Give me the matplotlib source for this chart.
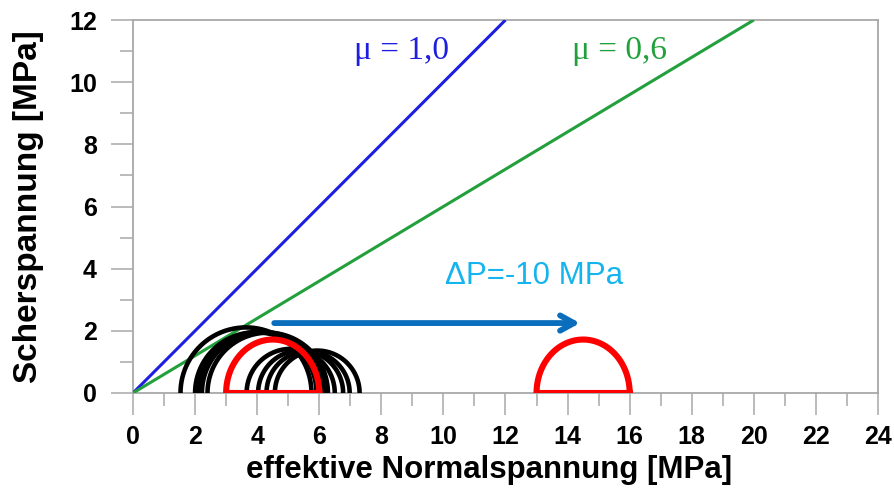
import numpy as np
import matplotlib
matplotlib.use("Agg")
import matplotlib.pyplot as plt
from matplotlib.ticker import MultipleLocator

# Friction lines: tau = mu * sigma_eff
mu_values = [1.0, 0.6]
mu_labels = ["μ = 1,0", "μ = 0,6"]
mu_colors = ["#1e1ee0", "#22a03c"]
sigma_max = [12.0, 20.0]

# Mohr semicircles (left / right end on the normal-stress axis)
black_left = [1.53, 2.00, 2.11, 2.22, 2.40, 3.66, 4.03, 4.30, 4.57]
black_right = [5.75, 5.91, 6.05, 6.15, 6.28, 6.50, 6.77, 6.98, 7.30]

red_left = [3.0, 13.0]
red_right = [6.0, 16.0]
red_height = [1.72, 1.72]

# Pressure change arrow
arrow_start = (4.55, 2.25)
arrow_end = (14.4, 2.25)
delta_p_text = "ΔP=-10 MPa"

x_ticks = list(range(0, 25, 2))
y_ticks = list(range(0, 13, 2))

fig = plt.figure(figsize=(8.95, 4.93), dpi=100)
ax = fig.add_axes([133 / 895, 100 / 493, 745 / 895, 373 / 493])

ax.set_xlim(0, 24)
ax.set_ylim(0, 12)

for mu, smax, col in zip(mu_values, sigma_max, mu_colors):
    s = np.array([0.0, smax])
    ax.plot(s, mu * s, color=col, lw=2.2, solid_capstyle="butt", zorder=3)

theta = np.linspace(0, np.pi, 200)
for l, r in zip(black_left, black_right):
    c = 0.5 * (l + r)
    rad = 0.5 * (r - l)
    ax.plot(c + rad * np.cos(theta), rad * np.sin(theta),
            color="black", lw=3.3, zorder=4)

for l, r, h in zip(red_left, red_right, red_height):
    c = 0.5 * (l + r)
    rad = 0.5 * (r - l)
    xs = np.concatenate([c + rad * np.cos(theta), [l, r]])
    ys = np.concatenate([h * np.sin(theta), [0.0, 0.0]])
    ax.plot(xs, ys, color="#ff0000", lw=4.4, zorder=5,
            solid_joinstyle="round")

ax.annotate("", xy=arrow_end, xytext=arrow_start,
            arrowprops=dict(arrowstyle="->,head_length=1.0,head_width=0.55",
                            color="#0a6ebd", lw=4.2, shrinkA=0, shrinkB=0,
                            capstyle="round"),
            zorder=6)

ax.text(12.93, 3.75, delta_p_text, color="#14b4ee", fontsize=22.5,
        family="Liberation Sans", ha="center", va="center")

ax.text(8.66, 11.0, mu_labels[0], color=mu_colors[0], fontsize=24,
        family="Liberation Serif", ha="center", va="center")
ax.text(15.67, 11.0, mu_labels[1], color=mu_colors[1], fontsize=24,
        family="Liberation Serif", ha="center", va="center")

grey = "#a8a8a8"
for sp in ax.spines.values():
    sp.set_color(grey)
    sp.set_linewidth(1.3)

ax.set_xticks(x_ticks)
ax.set_yticks(y_ticks)
ax.xaxis.set_minor_locator(MultipleLocator(1))
ax.yaxis.set_minor_locator(MultipleLocator(1))
ax.tick_params(which="major", direction="out", length=16, width=1.1,
               color=grey, labelsize=18)
ax.tick_params(axis="x", which="major", pad=7)
ax.tick_params(axis="y", which="major", pad=10)
ax.tick_params(which="minor", direction="out", length=9.5, width=1.1,
               color=grey)
for lab in ax.get_xticklabels() + ax.get_yticklabels():
    lab.set_fontweight("bold")
    lab.set_family("Liberation Sans")

ax.set_xlabel("effektive Normalspannung [MPa]", fontsize=22.5,
              fontweight="bold", family="Liberation Sans")
ax.set_ylabel("Scherspannung [MPa]", fontsize=24,
              fontweight="bold", family="Liberation Sans")
ax.xaxis.set_label_coords((489 - 133) / 745, -(470 - 393) / 373)
ax.yaxis.set_label_coords(-(133 - 28) / 745, 0.5)
ax.xaxis.label.set_va("center")
ax.yaxis.label.set_va("center")

fig.savefig("out.png", dpi=100)
